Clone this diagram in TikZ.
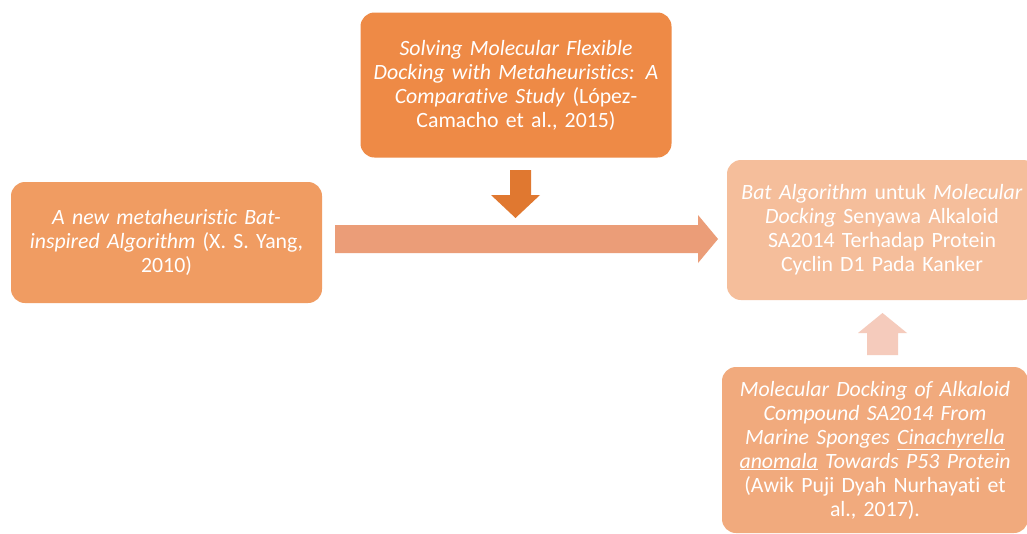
\documentclass[tikz,border=0pt]{standalone}
\usepackage{fontspec}
\setmainfont{Carlito}[Ligatures=NoCommon,WordSpace=0.8]
\definecolor{topc}{RGB}{238,138,70}
\definecolor{leftc}{RGB}{240,156,98}
\definecolor{rightc}{RGB}{245,190,155}
\definecolor{botc}{RGB}{241,170,125}
\definecolor{downc}{RGB}{224,120,48}
\definecolor{horc}{RGB}{235,157,120}
\definecolor{upc}{RGB}{245,203,188}
\tikzset{
  box/.style={rounded corners=14pt, align=center, text=white, inner sep=0pt,
    font=\fontsize{21.8}{24}\selectfont},
  blockarrow/.style={draw=none}
}
\begin{document}
\begin{tikzpicture}[x=1pt,y=-1pt]
\useasboundingbox (0,0) rectangle (1027,533);
\clip (0,0) rectangle (1027,533);
\fill[white] (0,0) rectangle (1027,533);
\node[box, fill=topc, minimum width=311pt, minimum height=145pt, text width=305pt] (top) at (516,85)
  {\textit{Solving Molecular Flexible}\\ \textit{Docking with Metaheuristics: A}\\ \textit{Comparative Study} (López-\\ Camacho et al., 2015)};
\node[box, fill=leftc, minimum width=311pt, minimum height=121pt, text width=305pt] (left) at (166.5,242.5)
  {\textit{A new metaheuristic Bat-}\\ \textit{inspired Algorithm} (X. S. Yang,\\ 2010)};
\node[box, fill=rightc, minimum width=310pt, minimum height=140pt, text width=305pt] (right) at (882,230)
  {\textit{Bat Algorithm} untuk \textit{Molecular}\\ \textit{Docking} Senyawa Alkaloid\\ SA2014 Terhadap Protein\\ Cyclin D1 Pada Kanker};
\node[box, fill=botc, minimum width=306pt, minimum height=166pt, text width=305pt] (bot) at (875,450)
  {\textit{Molecular Docking of Alkaloid}\\ \textit{Compound SA2014 From}\\ \textit{Marine Sponges} \underline{\textit{Cinachyrella}}\\ \underline{\textit{anomala}} \textit{Towards P53 Protein}\\ (Awik Puji Dyah Nurhayati et\\ al., 2017).};
% down arrow
\fill[downc] (510,170) -- (531,170) -- (531,195) -- (540,195) -- (515.5,218) -- (491,195) -- (510,195) -- cycle;
% horizontal arrow
\fill[horc] (335,225) -- (698,225) -- (698,215) -- (718,239) -- (698,263) -- (698,253) -- (335,253) -- cycle;
% up arrow
\fill[upc] (867,355) -- (867,333) -- (858,333) -- (882.5,313) -- (907,333) -- (898,333) -- (898,355) -- cycle;
\end{tikzpicture}
\end{document}
